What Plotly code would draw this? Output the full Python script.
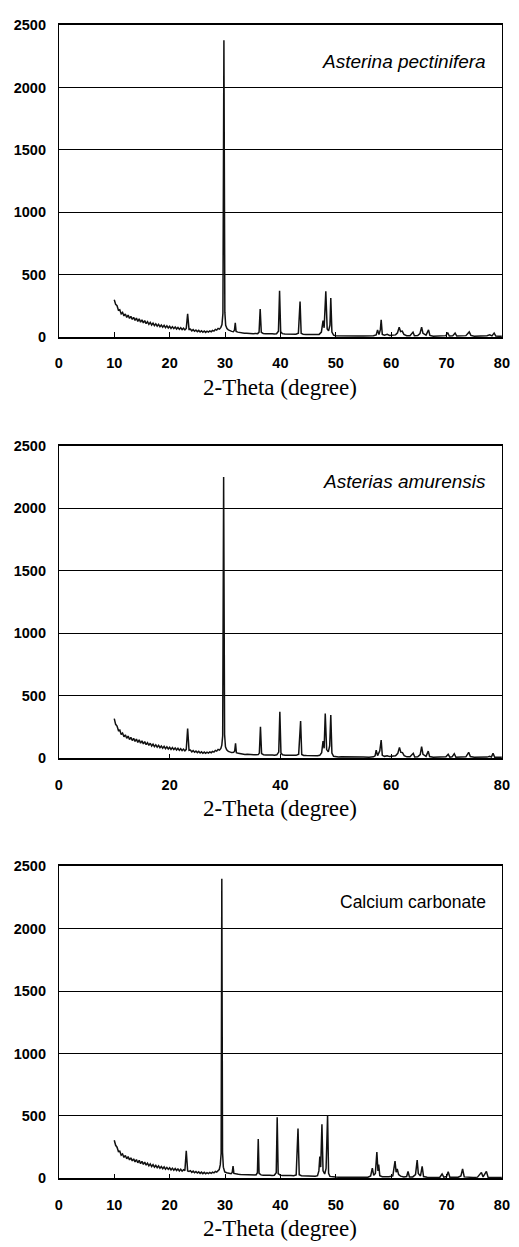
import plotly.graph_objects as go

# ---------------- data ----------------
# common fine grid for the noisy low-angle background, 10.00 .. 28.75 step 0.25
x_fine = [round(10.0 + 0.25 * i, 2) for i in range(76)]

# Panel 1: Asterina pectinifera
y_fine_1 = [300, 262, 252, 215, 220, 186, 198, 170, 186, 158, 176, 150, 166, 142, 158, 134,
            152, 126, 146, 120, 138, 114, 132, 108, 124, 102, 118, 97, 112, 92, 106, 88,
            102, 83, 97, 80, 94, 76, 90, 73, 87, 70, 84, 68, 81, 65, 78, 62,
            75, 60, 72, 58, 70, 186, 62, 64, 50, 60, 47, 57, 44, 54, 41, 51,
            39, 49, 38, 48, 40, 50, 42, 54, 48, 62, 56, 70]
x_tail_1 = [29.00, 29.25, 29.45, 29.62, 29.80, 29.97, 30.12, 30.35, 30.60, 30.90, 31.20, 31.50,
            31.70, 31.85, 32.00, 32.30, 32.70, 33.10, 33.50, 33.90, 34.30, 34.70, 35.10, 35.50,
            35.90, 36.15, 36.35, 36.55, 36.90, 37.30, 37.70, 38.10, 38.50, 38.90, 39.30, 39.65,
            39.85, 40.05, 40.35, 40.80, 41.30, 41.80, 42.30, 42.80, 43.25, 43.55, 43.75, 44.10,
            44.60, 45.10, 45.60, 46.10, 46.60, 47.00, 47.40, 47.70, 47.90, 48.20, 48.45, 48.70,
            48.95, 49.10, 49.30, 49.60, 50.00, 50.50, 51.00, 52.00, 53.00, 54.00, 55.00, 56.00,
            56.80, 57.30, 57.55, 57.80, 58.05, 58.20, 58.40, 58.80, 59.30, 59.70, 60.30, 60.80,
            61.15, 61.45, 61.70, 62.00, 62.30, 62.80, 63.40, 63.95, 64.20, 64.80, 65.20, 65.50,
            65.75, 66.30, 66.75, 67.00, 67.60, 68.40, 69.20, 69.90, 70.20, 70.50, 71.10, 71.55,
            71.85, 72.60, 73.50, 74.10, 74.40, 75.00, 75.80, 76.60, 77.30, 77.80, 78.20, 78.60,
            78.90, 79.50, 80.00]
y_tail_1 = [64, 78, 100, 190, 2380, 200, 95, 68, 58, 50, 46, 44,
            55, 114, 45, 40, 36, 34, 31, 32, 29, 30, 28, 29,
            28, 40, 226, 38, 29, 27, 28, 26, 27, 25, 27, 48,
            372, 42, 28, 25, 26, 24, 25, 24, 32, 285, 30, 23,
            22, 21, 19, 18, 20, 22, 40, 133, 75, 367, 65, 50,
            95, 314, 40, 16, 12, 11, 12, 10, 11, 9, 10, 9,
            11, 18, 58, 20, 60, 138, 22, 16, 22, 14, 14, 18,
            35, 80, 45, 48, 22, 12, 12, 40, 11, 12, 28, 80,
            30, 16, 58, 14, 8, 9, 8, 12, 37, 9, 10, 32,
            9, 8, 12, 42, 14, 8, 9, 8, 12, 18, 10, 32,
            9, 8, 8]

# Panel 2: Asterias amurensis
y_fine_2 = [318, 272, 258, 222, 226, 190, 202, 172, 188, 160, 178, 150, 168, 143, 160, 135,
            154, 128, 148, 121, 140, 115, 134, 110, 126, 104, 121, 99, 114, 94, 108, 90,
            104, 85, 99, 82, 96, 78, 92, 75, 89, 72, 86, 70, 83, 67, 80, 64,
            77, 62, 74, 60, 72, 239, 64, 66, 52, 62, 49, 58, 46, 56, 43, 52,
            41, 50, 40, 49, 42, 52, 45, 56, 50, 64, 58, 72]
x_tail_2 = [29.00, 29.25, 29.42, 29.58, 29.75, 29.92, 30.08, 30.30, 30.60, 30.90, 31.20, 31.55,
            31.75, 31.90, 32.05, 32.40, 32.80, 33.20, 33.60, 34.00, 34.40, 34.80, 35.20, 35.60,
            36.00, 36.20, 36.40, 36.60, 36.95, 37.35, 37.75, 38.15, 38.55, 38.95, 39.35, 39.70,
            39.90, 40.10, 40.40, 40.85, 41.35, 41.85, 42.35, 42.85, 43.30, 43.65, 43.85, 44.20,
            44.70, 45.20, 45.70, 46.20, 46.70, 47.10, 47.45, 47.70, 47.90, 48.10, 48.35, 48.65,
            48.90, 49.10, 49.30, 49.60, 50.00, 50.50, 51.00, 52.00, 53.00, 54.00, 55.00, 56.00,
            56.80, 57.10, 57.30, 57.55, 57.95, 58.20, 58.40, 58.80, 59.30, 59.70, 60.30, 60.80,
            61.20, 61.50, 61.75, 62.05, 62.35, 62.85, 63.40, 64.00, 64.25, 64.80, 65.25, 65.50,
            65.75, 66.30, 66.70, 66.95, 67.60, 68.40, 69.20, 69.90, 70.30, 70.60, 71.00, 71.40,
            71.70, 72.60, 73.50, 74.00, 74.30, 75.00, 75.80, 76.60, 77.30, 77.80, 78.10, 78.40,
            78.70, 79.50, 80.00]
y_tail_2 = [66, 80, 105, 180, 2250, 190, 92, 68, 56, 50, 46, 48,
            60, 120, 46, 40, 36, 33, 31, 32, 29, 30, 28, 29,
            30, 42, 253, 38, 29, 27, 28, 26, 27, 25, 28, 50,
            372, 42, 28, 25, 26, 24, 25, 24, 33, 298, 31, 23,
            22, 21, 19, 18, 20, 24, 45, 138, 80, 359, 70, 52,
            100, 346, 42, 16, 12, 11, 12, 10, 11, 9, 10, 9,
            12, 20, 66, 22, 60, 146, 24, 16, 20, 14, 14, 20,
            40, 88, 48, 46, 22, 12, 12, 40, 11, 13, 30, 93,
            32, 16, 58, 14, 8, 9, 8, 12, 32, 9, 12, 37,
            9, 8, 12, 48, 14, 8, 9, 8, 10, 16, 10, 40,
            9, 8, 8]

# Panel 3: Calcium carbonate
y_fine_3 = [305, 265, 250, 215, 218, 186, 196, 168, 184, 157, 174, 148, 164, 140, 156, 132,
            150, 125, 144, 118, 136, 112, 130, 106, 122, 100, 116, 95, 110, 90, 104, 86,
            100, 81, 95, 78, 92, 74, 88, 72, 85, 68, 82, 66, 79, 63, 76, 60,
            73, 58, 70, 62, 220, 60, 56, 62, 48, 58, 45, 55, 43, 52, 40, 50,
            38, 48, 37, 46, 39, 48, 41, 50, 44, 56, 50, 62]
x_tail_3 = [28.95, 29.15, 29.30, 29.42, 29.55, 29.70, 29.95, 30.30, 30.70, 31.10, 31.30, 31.45,
            31.60, 31.95, 32.40, 32.80, 33.20, 33.60, 34.00, 34.40, 34.80, 35.20, 35.60, 35.85,
            36.00, 36.15, 36.50, 36.90, 37.30, 37.70, 38.10, 38.50, 38.90, 39.25, 39.42, 39.60,
            39.95, 40.40, 40.90, 41.40, 41.90, 42.40, 42.85, 43.18, 43.40, 43.80, 44.30, 44.80,
            45.30, 45.80, 46.30, 46.70, 46.95, 47.12, 47.28, 47.50, 47.70, 48.00, 48.25, 48.52,
            48.70, 48.95, 49.40, 50.00, 50.50, 51.00, 52.00, 53.00, 54.00, 55.00, 55.80, 56.30,
            56.60, 56.85, 57.15, 57.42, 57.62, 57.75, 57.95, 58.40, 59.00, 59.60, 60.30, 60.70,
            60.90, 61.10, 61.35, 61.70, 62.30, 62.80, 63.05, 63.30, 63.90, 64.40, 64.70, 64.90,
            65.30, 65.60, 65.85, 66.50, 67.30, 68.10, 68.80, 69.20, 69.50, 70.00, 70.30, 70.60,
            71.30, 72.10, 72.60, 72.90, 73.20, 74.00, 74.80, 75.60, 76.30, 76.60, 77.20, 77.50,
            78.20, 79.00, 80.00]
y_tail_3 = [70, 110, 200, 2400, 210, 90, 52, 45, 40, 38, 48, 98,
            40, 35, 33, 31, 30, 28, 29, 27, 28, 26, 28, 45,
            316, 40, 28, 26, 27, 25, 26, 24, 25, 45, 490, 38,
            26, 24, 25, 23, 24, 22, 28, 400, 30, 22, 21, 20,
            18, 17, 18, 22, 60, 175, 90, 433, 60, 35, 80, 503,
            40, 16, 12, 11, 10, 11, 9, 10, 9, 9, 10, 20,
            82, 25, 40, 210, 60, 110, 22, 14, 12, 13, 20, 138,
            50, 75, 30, 18, 12, 15, 56, 12, 12, 30, 146, 40,
            20, 96, 15, 9, 8, 9, 10, 35, 10, 15, 53, 10,
            8, 9, 20, 75, 12, 9, 8, 10, 48, 12, 56, 10,
            8, 9, 8]

sample_labels = ["Asterina pectinifera", "Asterias amurensis", "Calcium carbonate"]
label_italic = [True, True, False]
x_title = "2-Theta (degree)"
y_ticks = [0, 500, 1000, 1500, 2000, 2500]
x_dticks = [10, 20, 10]

panels = [
    (x_fine + x_tail_1, y_fine_1 + y_tail_1),
    (x_fine + x_tail_2, y_fine_2 + y_tail_2),
    (x_fine + x_tail_3, y_fine_3 + y_tail_3),
]

# ---------------- layout geometry ----------------
# figure pixels (the page body adds an 8 px margin on top/left)
W, H = 519, 1247
plot_left, plot_right = 48, 501.5
panel_px = [(9.3, 325.3), (435.3, 752.0), (861.3, 1177.5)]   # (top, bottom) of each plot area
title_px = [376, 803, 1228.5]

fig = go.Figure()
layout = dict(
    width=W, height=H, autosize=False,
    margin=dict(l=0, r=0, t=0, b=0),
    paper_bgcolor="white", plot_bgcolor="white",
    showlegend=False,
    annotations=[],
)

tick_font = dict(family="Liberation Sans, Arial, sans-serif", size=14.5, color="black", weight="bold")

for i, (xs, ys) in enumerate(panels):
    n = "" if i == 0 else str(i + 1)
    fig.add_trace(go.Scatter(
        x=xs, y=ys, mode="lines",
        line=dict(color="#111111", width=1.5),
        xaxis="x" + n, yaxis="y" + n, hoverinfo="skip",
    ))
    top, bot = panel_px[i]
    layout["xaxis" + n] = dict(
        domain=[plot_left / W, plot_right / W], anchor="y" + n,
        range=[0, 80], dtick=x_dticks[i], tick0=0,
        showgrid=False, zeroline=False,
        showline=True, linecolor="black", linewidth=1.5, mirror=True,
        ticks="inside", ticklen=5, tickwidth=1, tickcolor="black",
        tickfont=tick_font, ticklabelstandoff=12,
    )
    layout["yaxis" + n] = dict(
        domain=[1 - bot / H, 1 - top / H], anchor="x" + n,
        range=[0, 2500], tickvals=y_ticks,
        showgrid=True, gridcolor="black", gridwidth=1,
        zeroline=False,
        showline=True, linecolor="black", linewidth=1, mirror=True,
        ticks="", tickfont=tick_font, ticklabelstandoff=9,
    )
    layout["annotations"].append(dict(
        text=sample_labels[i], xref="x" + n, yref="y" + n,
        x=77.4, y=2210, xanchor="right", yanchor="middle", showarrow=False,
        font=dict(family="Liberation Sans, Arial, sans-serif",
                  size=19 if label_italic[i] else 17.5, color="black",
                  style="italic" if label_italic[i] else "normal"),
    ))
    layout["annotations"].append(dict(
        text=x_title, xref="paper", yref="paper",
        x=(plot_left + plot_right) / 2 / W, y=1 - title_px[i] / H,
        xanchor="center", yanchor="middle", showarrow=False,
        font=dict(family="Liberation Serif, serif", size=23, color="black"),
    ))

fig.update_layout(**layout)
fig.write_html("out.html")
